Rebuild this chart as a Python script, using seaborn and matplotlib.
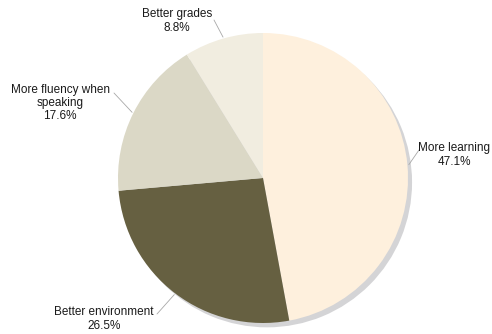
import numpy as np
import seaborn as sns
import matplotlib.pyplot as plt

labels = ["More learning", "Better environment", "More fluency when\nspeaking", "Better grades"]
shares = [47.1, 26.5, 17.6, 8.8]
colors = ["#FEF0DD", "#666041", "#DBD8C6", "#F1EDE0"]

sns.set_style("white")
plt.rcParams["font.family"] = ["Liberation Sans", "DejaVu Sans"]

fig = plt.figure(figsize=(4.92, 3.34), dpi=100)
ax = fig.add_axes([0, 0, 1, 1])

# pie centre at pixel (263,178), radius 145 px
R = 145.0
cx, cy = 263.0, 178.0
def px(x, y):
    return ((x - cx) / R, (cy - y) / R)

# soft grey shadow behind the pie
ax.pie([1], colors=["#D4D4D6"], radius=1.0, center=(0.028, -0.03),
       wedgeprops=dict(linewidth=0))
wedges, _ = ax.pie(shares, colors=colors, startangle=90, counterclock=False,
                   radius=1.0, wedgeprops=dict(linewidth=0))

# label block centres in pixels and the end of the leader line
label_px = [(454, 155), (104, 319), (60, 103), (177, 21)]
line_end_px = [(419, 150), (157, 314), (114, 93), (214, 20)]

for w, lab, val, (lx, ly), (ex, ey) in zip(wedges, labels, shares, label_px, line_end_px):
    mid = np.deg2rad((w.theta1 + w.theta2) / 2)
    edge = (np.cos(mid) * 1.01, np.sin(mid) * 1.01)
    ax.annotate("", xy=edge, xytext=px(ex, ey),
                arrowprops=dict(arrowstyle="-", color="#A8A8A8", lw=0.6,
                                shrinkA=0, shrinkB=0))
    ax.text(*px(lx, ly), f"{lab}\n{val:.1f}%", ha="center", va="center",
            fontsize=8.5, color="#1a1a1a", linespacing=1.15)

ax.set_xlim(-cx / R, (492 - cx) / R)
ax.set_ylim((cy - 334) / R, cy / R)
ax.set_aspect("auto")
ax.axis("off")

fig.savefig("out.png", dpi=100)
